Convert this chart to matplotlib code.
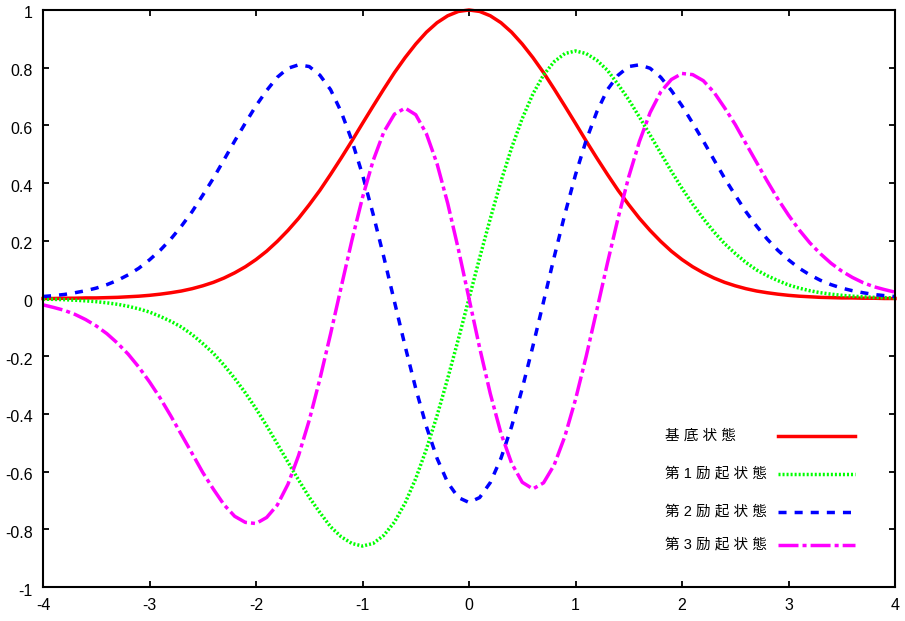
import numpy as np
import matplotlib
matplotlib.use("Agg")
import matplotlib.pyplot as plt
from matplotlib.lines import Line2D
from matplotlib.transforms import ScaledTranslation

plt.rcParams['font.family'] = ['Liberation Sans', 'Noto Sans CJK JP', 'DejaVu Sans']
plt.rcParams['lines.scale_dashes'] = False
plt.rcParams['axes.unicode_minus'] = False

# sample positions
x_vals = [-4.0, -3.9, -3.8, -3.7, -3.6, -3.5, -3.4, -3.3, -3.2, -3.1,
          -3.0, -2.9, -2.8, -2.7, -2.6, -2.5, -2.4, -2.3, -2.2, -2.1,
          -2.0, -1.9, -1.8, -1.7, -1.6, -1.5, -1.4, -1.3, -1.2, -1.1,
          -1.0, -0.9, -0.8, -0.7, -0.6, -0.5, -0.4, -0.3, -0.2, -0.1,
          0.0,
          0.1, 0.2, 0.3, 0.4, 0.5, 0.6, 0.7, 0.8, 0.9, 1.0,
          1.1, 1.2, 1.3, 1.4, 1.5, 1.6, 1.7, 1.8, 1.9, 2.0,
          2.1, 2.2, 2.3, 2.4, 2.5, 2.6, 2.7, 2.8, 2.9, 3.0,
          3.1, 3.2, 3.3, 3.4, 3.5, 3.6, 3.7, 3.8, 3.9, 4.0]

# 基底状態
ground = [0.000, 0.000, 0.001, 0.001, 0.002, 0.002, 0.003, 0.004, 0.006, 0.008,
          0.011, 0.015, 0.020, 0.026, 0.034, 0.044, 0.056, 0.071, 0.089, 0.110,
          0.135, 0.164, 0.198, 0.236, 0.278, 0.325, 0.375, 0.430, 0.487, 0.546,
          0.607, 0.667, 0.726, 0.783, 0.835, 0.882, 0.923, 0.956, 0.980, 0.995,
          1.000,
          0.995, 0.980, 0.956, 0.923, 0.882, 0.835, 0.783, 0.726, 0.667, 0.607,
          0.546, 0.487, 0.430, 0.375, 0.325, 0.278, 0.236, 0.198, 0.164, 0.135,
          0.110, 0.089, 0.071, 0.056, 0.044, 0.034, 0.026, 0.020, 0.015, 0.011,
          0.008, 0.006, 0.004, 0.003, 0.002, 0.002, 0.001, 0.001, 0.000, 0.000]

# 第1励起状態
first = [-0.002, -0.003, -0.004, -0.006, -0.008, -0.011, -0.015, -0.020, -0.027, -0.036,
         -0.047, -0.062, -0.079, -0.099, -0.125, -0.156, -0.190, -0.231, -0.277, -0.327,
         -0.382, -0.441, -0.504, -0.567, -0.629, -0.689, -0.742, -0.791, -0.826, -0.849,
         -0.858, -0.849, -0.821, -0.775, -0.709, -0.624, -0.522, -0.406, -0.277, -0.141,
         0.000,
         0.141, 0.277, 0.406, 0.522, 0.624, 0.709, 0.775, 0.821, 0.849, 0.858,
         0.849, 0.826, 0.791, 0.742, 0.689, 0.629, 0.567, 0.504, 0.441, 0.382,
         0.327, 0.277, 0.231, 0.190, 0.156, 0.125, 0.099, 0.079, 0.062, 0.047,
         0.036, 0.027, 0.020, 0.015, 0.011, 0.008, 0.006, 0.004, 0.003, 0.002]

# 第2励起状態
second = [0.007, 0.010, 0.014, 0.020, 0.027, 0.036, 0.048, 0.063, 0.082, 0.105,
          0.134, 0.167, 0.206, 0.251, 0.301, 0.358, 0.417, 0.481, 0.546, 0.608,
          0.668, 0.721, 0.767, 0.798, 0.810, 0.804, 0.774, 0.724, 0.647, 0.548,
          0.429, 0.292, 0.144, -0.011, -0.165, -0.312, -0.444, -0.554, -0.638, -0.690,
          -0.707,
          -0.690, -0.638, -0.554, -0.444, -0.312, -0.165, -0.011, 0.144, 0.292, 0.429,
          0.548, 0.647, 0.724, 0.774, 0.804, 0.810, 0.798, 0.767, 0.721, 0.668,
          0.608, 0.546, 0.481, 0.417, 0.358, 0.301, 0.251, 0.206, 0.167, 0.134,
          0.105, 0.082, 0.063, 0.048, 0.036, 0.027, 0.020, 0.014, 0.010, 0.007]

# 第3励起状態
third = [-0.022, -0.031, -0.041, -0.055, -0.073, -0.095, -0.122, -0.155, -0.193, -0.238,
         -0.289, -0.345, -0.407, -0.472, -0.537, -0.603, -0.661, -0.715, -0.755, -0.776,
         -0.780, -0.759, -0.716, -0.644, -0.544, -0.422, -0.279, -0.123, 0.040, 0.201,
         0.350, 0.478, 0.577, 0.639, 0.660, 0.637, 0.571, 0.467, 0.330, 0.171,
         0.000,
         -0.171, -0.330, -0.467, -0.571, -0.637, -0.660, -0.639, -0.577, -0.478, -0.350,
         -0.201, -0.040, 0.123, 0.279, 0.422, 0.544, 0.644, 0.716, 0.759, 0.780,
         0.776, 0.755, 0.715, 0.661, 0.603, 0.537, 0.472, 0.407, 0.345, 0.289,
         0.238, 0.193, 0.155, 0.122, 0.095, 0.073, 0.055, 0.041, 0.031, 0.022]

labels = ['基 底 状 態', '第 1 励 起 状 態', '第 2 励 起 状 態', '第 3 励 起 状 態']
x_ticks = [-4, -3, -2, -1, 0, 1, 2, 3, 4]
y_ticks = [-1, -0.8, -0.6, -0.4, -0.2, 0, 0.2, 0.4, 0.6, 0.8, 1]

styles = [
    dict(color='#ff0000', linestyle='-'),
    dict(color='#00ff00', linestyle=(0, (1.45, 1.45))),
    dict(color='#0000ff', linestyle=(0, (5.8, 5.8))),
    dict(color='#ff00ff', linestyle=(0, (14.4, 2.9, 2.9, 2.9))),
]
lw = 2.5

fig = plt.figure(figsize=(9.05, 6.21), dpi=100)
ax = fig.add_axes([43 / 905, 34 / 621, 852 / 905, 577 / 621])

for ys, st in zip([ground, first, second, third], styles):
    ax.plot(x_vals, ys, lw=lw, dash_capstyle='butt', clip_on=False, **st)

ax.set_xlim(-4, 4)
ax.set_ylim(-1, 1)
ax.set_xticks(x_ticks)
ax.set_xticklabels([f'{v:g}' for v in x_ticks])
ax.set_yticks(y_ticks)
ax.set_yticklabels([f'{v:g}' for v in y_ticks])
ax.tick_params(direction='in', length=4.5, width=1.3, top=True, right=True,
               labelsize=11.5, colors='black')
ax.tick_params(axis='x', pad=8)
ax.tick_params(axis='y', pad=7.5)
for sp in ax.spines.values():
    sp.set_linewidth(1.5)

shift = ScaledTranslation(0, -2.5 / 100, fig.dpi_scale_trans)
for lab in ax.get_yticklabels():
    lab.set_transform(lab.get_transform() + shift)

# key, drawn gnuplot style: text on the left, sample line on the right
key_rows = [0.262, 0.196, 0.130, 0.073]
for lab, st, yk in zip(labels, styles, key_rows):
    ax.text(0.730, yk, lab, transform=ax.transAxes, fontsize=10.5,
            ha='left', va='center')
    ax.add_line(Line2D([0.863, 0.953], [yk, yk], transform=ax.transAxes,
                       lw=lw, dash_capstyle='butt', **st))

fig.savefig('out.png', dpi=100)
